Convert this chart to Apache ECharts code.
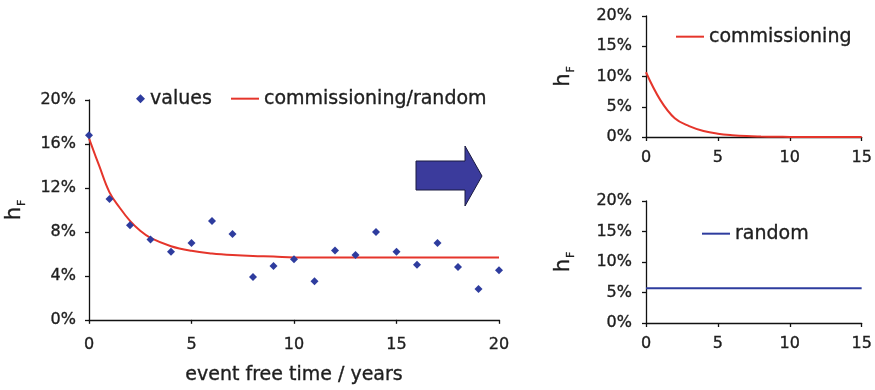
<!DOCTYPE html>
<html>
<head>
<meta charset="utf-8">
<script src="https://cdn.jsdelivr.net/npm/echarts@6/dist/echarts.min.js"></script>
<style>
  html, body { margin: 0; padding: 0; background: #fff; }
  #chart { width: 875px; height: 390px; }
</style>
</head>
<body>
<div id="chart"></div>
<script>
// Observed failure rate per year of event free time (%)
const years = [0, 1, 2, 3, 4, 5, 6, 7, 8, 9, 10, 11, 12, 13, 14, 15, 16, 17, 18, 19, 20];
const observed = [16.8, 11.0, 8.6, 7.3, 6.2, 7.0, 9.0, 7.8, 3.9, 4.9, 5.5, 3.5, 6.3, 5.9, 8.0, 6.2, 5.0, 7.0, 4.8, 2.8, 4.5];

// Fitted commissioning + random hazard (%)
const fitT = [0, 0.5, 1, 1.5, 2, 2.5, 3, 4, 5, 6, 7, 8, 9, 10, 12, 14, 16, 18, 20];
const fitVals = [16.5, 14.0, 11.6, 10.2, 9.0, 8.1, 7.45, 6.7, 6.28, 6.04, 5.89, 5.8, 5.76, 5.68, 5.68, 5.68, 5.68, 5.68, 5.68];

// Commissioning component (%)
const commT = [0, 1, 2, 3, 4, 5, 6, 7, 8, 9, 10, 11, 12, 13, 14, 15];
const commVals = [10.7, 6.1, 3.1, 1.8, 1.0, 0.55, 0.3, 0.15, 0.08, 0.04, 0.02, 0, 0, 0, 0, 0];

// Random component (%)
const randT = [0, 15];
const randVals = [5.68, 5.68];

// Axis tick settings
const mainYTicks = { min: 0, max: 20, interval: 4 };
const mainXTicks = { min: 0, max: 20, interval: 5 };
const sideYTicks = { min: 0, max: 20, interval: 5 };
const sideXTicks = { min: 0, max: 15, interval: 5 };

const FONT = 'DejaVu Sans';
const TXT = '#1e1e1e';
const RED = '#e5352b';
const BLUE = '#2e3c9e';

const pairs = (xs, ys) => xs.map((x, i) => [x, ys[i]]);

// slightly heavier glyphs via a thin outline in the text colour
const heavy = { textBorderColor: TXT, textBorderWidth: 0.35 };

const axisLineStyle = { show: true, lineStyle: { color: '#111', width: 1.3 } };
const tickStyle = { show: true, inside: false, length: 4, lineStyle: { color: '#111', width: 1.3 } };

function hfName(gap) {
  return {
    name: '{h|h}{s|F}',
    nameLocation: 'middle',
    nameRotate: 90,
    nameGap: gap,
    nameTextStyle: {
      rich: {
        h: Object.assign({ fontFamily: FONT, fontSize: 21, color: TXT, verticalAlign: 'bottom' }, heavy),
        s: Object.assign({ fontFamily: FONT, fontSize: 11, color: TXT, verticalAlign: 'bottom', padding: [0, 0, -3, 1] }, heavy)
      }
    }
  };
}

function yAxis(gridIndex, ticks, gap, margin) {
  return Object.assign({
    type: 'value', gridIndex,
    min: ticks.min, max: ticks.max, interval: ticks.interval,
    axisLine: axisLineStyle, axisTick: tickStyle, splitLine: { show: false },
    axisLabel: Object.assign({ formatter: '{value}%', fontFamily: FONT, fontSize: 16, color: TXT, margin }, heavy)
  }, hfName(gap));
}

function xAxis(gridIndex, ticks, margin, extra) {
  return Object.assign({
    type: 'value', gridIndex,
    min: ticks.min, max: ticks.max, interval: ticks.interval,
    axisLine: axisLineStyle, axisTick: tickStyle, splitLine: { show: false },
    axisLabel: Object.assign({ fontFamily: FONT, fontSize: 16, color: TXT, margin }, heavy)
  }, extra || {});
}

const legendText = Object.assign({ fontFamily: FONT, fontSize: 19, color: TXT }, heavy);

const chart = echarts.init(document.getElementById('chart'), null, { renderer: 'canvas' });

chart.setOption({
  backgroundColor: '#fff',
  animation: false,
  grid: [
    { left: 89, right: 376, top: 100, bottom: 68 },
    { left: 646, right: 13, top: 16, bottom: 253 },
    { left: 646, right: 11, top: 201, bottom: 67 }
  ],
  xAxis: [
    xAxis(0, mainXTicks, 17, {
      name: 'event free time / years', nameLocation: 'middle', nameGap: 46,
      nameTextStyle: Object.assign({ fontFamily: FONT, fontSize: 19, color: TXT }, heavy)
    }),
    xAxis(1, sideXTicks, 13),
    xAxis(2, sideXTicks, 13)
  ],
  yAxis: [
    yAxis(0, mainYTicks, 64, 13),
    yAxis(1, sideYTicks, 72, 14),
    yAxis(2, sideYTicks, 72, 14)
  ],
  legend: [
    {
      data: [{ name: 'values', icon: 'diamond' }], left: 131, top: 84, itemWidth: 9, itemHeight: 9,
      textStyle: legendText
    },
    {
      data: [{ name: 'commissioning/random', icon: 'rect' }], left: 226, top: 84, itemWidth: 28, itemHeight: 2,
      textStyle: legendText
    },
    {
      data: [{ name: 'commissioning', icon: 'rect' }], left: 671, top: 22, itemWidth: 28, itemHeight: 2,
      textStyle: legendText
    },
    {
      data: [{ name: 'random', icon: 'rect' }], left: 697, top: 219, itemWidth: 28, itemHeight: 2,
      textStyle: legendText
    }
  ],
  series: [
    {
      name: 'commissioning/random', type: 'line', xAxisIndex: 0, yAxisIndex: 0,
      data: pairs(fitT, fitVals), smooth: 0.4, symbol: 'none',
      lineStyle: { color: RED, width: 2 }, itemStyle: { color: RED }, z: 2
    },
    {
      name: 'values', type: 'scatter', xAxisIndex: 0, yAxisIndex: 0,
      data: pairs(years, observed), symbol: 'diamond', symbolSize: 8,
      itemStyle: { color: BLUE, opacity: 1 }, z: 3
    },
    {
      name: 'commissioning', type: 'line', xAxisIndex: 1, yAxisIndex: 1,
      data: pairs(commT, commVals), smooth: 0.4, symbol: 'none',
      lineStyle: { color: RED, width: 2 }, itemStyle: { color: RED }
    },
    {
      name: 'random', type: 'line', xAxisIndex: 2, yAxisIndex: 2,
      data: pairs(randT, randVals), symbol: 'none',
      lineStyle: { color: BLUE, width: 2 }, itemStyle: { color: BLUE }
    }
  ],
  graphic: [
    {
      // block arrow pointing from the combined fit to its components
      type: 'polygon', z: 10,
      shape: { points: [[416, 161], [465, 161], [465, 146], [482, 176], [465, 206], [465, 190], [416, 190]] },
      style: { fill: '#3b3b9c', stroke: '#1a1a40', lineWidth: 1 }
    }
  ]
});
</script>
</body>
</html>
